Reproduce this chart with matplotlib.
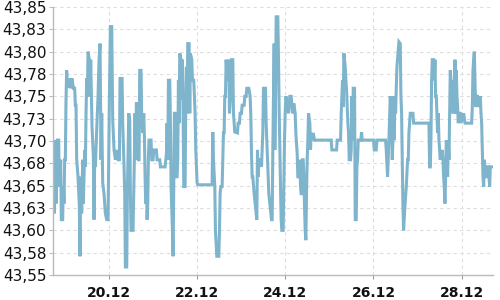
import pandas as pd
import matplotlib
matplotlib.use("Agg")
import matplotlib.pyplot as plt
import matplotlib.dates as mdates
from matplotlib.ticker import FixedLocator, FuncFormatter

# ─────────────────────────────────────────────────────────────
# Data: hours since first sample, rate
# ─────────────────────────────────────────────────────────────
start = pd.Timestamp("2023-12-18 17:30")

hours = [
    0.0, 0.56, 1.11, 1.47, 2.2, 2.93, 3.29, 4.02, 4.38, 5.11, 5.47, 5.84, 6.2, 6.56,
    6.93, 7.29, 7.65, 8.2, 8.75, 9.47, 10.2, 10.93, 11.65, 12.02, 12.38, 12.75, 13.47,
    14.2, 14.56, 14.93, 15.47, 16.02, 16.38, 17.11, 17.47, 17.84, 18.2, 18.56, 18.93,
    19.65, 20.02, 20.38, 20.75, 21.11, 21.84, 22.2, 22.56, 22.93, 23.65, 24.38, 24.93,
    25.47, 26.02, 26.38, 26.93, 27.65, 28.38, 29.11, 29.84, 30.56, 31.11, 31.84, 32.38,
    33.11, 33.84, 34.56, 35.29, 36.02, 36.38, 37.47, 37.84, 38.56, 38.93, 39.29, 40.02,
    40.38, 41.11, 41.66, 42.02, 42.38, 43.47, 44.2, 44.56, 44.93, 45.29, 46.02, 46.38,
    46.75, 47.11, 47.84, 48.2, 48.93, 49.29, 49.66, 50.02, 50.38, 50.75, 51.11, 51.47,
    51.84, 52.2, 53.29, 53.66, 54.38, 54.75, 56.2, 56.56, 58.02, 58.38, 60.93, 61.66,
    62.02, 62.38, 62.75, 63.47, 63.84, 64.2, 64.93, 65.29, 65.66, 66.02, 66.38, 66.75,
    67.47, 67.84, 68.2, 68.56, 68.93, 69.66, 70.02, 70.38, 70.75, 71.11, 71.84, 72.2,
    72.56, 72.93, 73.29, 74.02, 74.38, 74.75, 75.48, 75.84, 76.56, 77.29, 77.66, 78.02,
    78.38, 78.75, 86.56, 86.93, 87.29, 88.02, 88.38, 89.11, 90.2, 90.57, 90.93, 91.29,
    92.02, 92.38, 92.75, 93.11, 93.47, 93.84, 94.2, 94.93, 95.66, 96.02, 96.75, 97.11,
    97.84, 98.2, 98.57, 98.93, 100.38, 100.75, 101.47, 101.84, 102.57, 102.93, 104.02,
    104.38, 105.11, 105.47, 106.57, 107.29, 107.66, 108.02, 108.38, 108.75, 109.47,
    110.2, 110.93, 111.29, 111.66, 112.02, 112.75, 113.47, 114.2, 114.57, 115.66,
    116.02, 116.75, 117.47, 118.2, 118.93, 119.29, 119.66, 120.02, 120.38, 120.75,
    121.11, 121.48, 122.2, 122.38, 122.75, 123.11, 123.48, 123.84, 124.2, 124.57,
    125.29, 125.66, 126.02, 126.38, 126.75, 127.48, 128.2, 128.93, 129.66, 130.38,
    131.11, 131.84, 132.2, 132.57, 132.93, 133.29, 134.02, 134.38, 134.75, 135.11,
    135.48, 135.84, 136.2, 136.57, 136.93, 137.29, 137.66, 138.02, 138.38, 138.75,
    139.11, 139.84, 140.2, 140.57, 140.93, 141.66, 142.38, 151.48, 151.84, 154.38,
    154.75, 156.57, 156.93, 157.29, 157.66, 158.02, 158.38, 159.11, 159.48, 159.84,
    160.2, 160.57, 160.93, 161.29, 162.02, 162.38, 162.75, 163.11, 163.48, 164.2,
    164.57, 165.11, 165.48, 165.84, 166.2, 167.66, 168.02, 168.39, 174.57, 174.93,
    176.02, 176.39, 181.11, 181.48, 182.2, 182.93, 183.66, 184.39, 184.75, 185.11,
    185.48, 185.84, 186.2, 186.57, 186.93, 187.3, 188.02, 188.39, 189.11, 189.48,
    189.84, 190.2, 190.57, 190.93, 191.66, 192.39, 193.11, 193.48, 193.84, 194.2,
    194.57, 196.02, 196.39, 204.75, 205.11, 205.47, 205.84, 206.2, 206.57, 207.29,
    207.66, 208.02, 208.38, 208.75, 209.11, 209.47, 209.84, 210.2, 210.57, 210.93,
    211.29, 211.66, 212.02, 212.38, 212.75, 213.11, 213.47, 213.84, 214.2, 214.57,
    214.93, 215.29, 215.66, 216.02, 216.38, 216.75, 217.11, 217.47, 217.84, 218.2,
    218.57, 218.93, 219.29, 219.66, 220.02, 220.38, 220.75, 221.11, 221.84, 222.2,
    223.66, 224.39, 228.02, 228.39, 228.75, 229.11, 229.47, 229.84, 230.2, 230.57,
    231.29, 232.02, 232.75, 233.11, 233.48, 233.84, 234.2, 234.57, 234.93, 235.66,
    236.02, 236.38, 237.11, 237.47, 237.84, 238.2, 238.93, 239.5,
]

rates = [
    43.649, 43.619, 43.701, 43.630, 43.701, 43.701, 43.649, 43.679, 43.612, 43.612, 43.649, 43.630, 43.679, 43.679,
    43.746, 43.779, 43.761, 43.761, 43.770, 43.759, 43.770, 43.759, 43.759, 43.740, 43.740, 43.679, 43.660,
    43.627, 43.571, 43.660, 43.619, 43.679, 43.630, 43.690, 43.671, 43.731, 43.770, 43.750, 43.800,
    43.791, 43.750, 43.791, 43.750, 43.716, 43.682, 43.612, 43.679, 43.671, 43.712, 43.750, 43.791,
    43.809, 43.679, 43.731, 43.653, 43.641, 43.619, 43.612, 43.612, 43.746, 43.828, 43.828, 43.724,
    43.690, 43.679, 43.690, 43.679, 43.679, 43.770, 43.770, 43.720, 43.671, 43.641, 43.559, 43.559,
    43.641, 43.731, 43.724, 43.641, 43.600, 43.600, 43.682, 43.731, 43.679, 43.742, 43.742, 43.679,
    43.679, 43.779, 43.779, 43.720, 43.709, 43.731, 43.705, 43.660, 43.630, 43.660, 43.612, 43.630,
    43.682, 43.701, 43.701, 43.679, 43.679, 43.690, 43.690, 43.679, 43.679, 43.671, 43.671, 43.686,
    43.720, 43.679, 43.768, 43.768, 43.720, 43.649, 43.600, 43.571, 43.649, 43.731, 43.731, 43.660,
    43.660, 43.679, 43.768, 43.720, 43.798, 43.791, 43.746, 43.791, 43.731, 43.649, 43.649, 43.746,
    43.783, 43.731, 43.809, 43.809, 43.731, 43.798, 43.791, 43.768, 43.768, 43.731, 43.690, 43.671,
    43.653, 43.651, 43.651, 43.710, 43.679, 43.649, 43.600, 43.571, 43.571, 43.600, 43.641, 43.649,
    43.649, 43.679, 43.709, 43.709, 43.750, 43.750, 43.791, 43.768, 43.791, 43.731, 43.757, 43.791,
    43.791, 43.731, 43.720, 43.710, 43.709, 43.720, 43.720, 43.731, 43.731, 43.740, 43.740,
    43.750, 43.750, 43.759, 43.759, 43.750, 43.729, 43.686, 43.660, 43.660, 43.641,
    43.627, 43.612, 43.690, 43.660, 43.679, 43.679, 43.671, 43.709, 43.759, 43.759,
    43.720, 43.679, 43.641, 43.627, 43.612, 43.612, 43.690, 43.750, 43.809, 43.690,
    43.746, 43.839, 43.839, 43.839, 43.791, 43.735, 43.690, 43.649, 43.612, 43.600,
    43.600, 43.649, 43.701, 43.731, 43.750, 43.742, 43.731, 43.750, 43.750, 43.731,
    43.742, 43.731, 43.709, 43.697, 43.686, 43.660, 43.660, 43.679, 43.649, 43.641,
    43.641, 43.679, 43.679, 43.660, 43.627, 43.600, 43.589, 43.641, 43.679, 43.701,
    43.731, 43.720, 43.690, 43.709, 43.701, 43.709, 43.701, 43.701, 43.690, 43.690,
    43.701, 43.701, 43.731, 43.750, 43.768, 43.738, 43.798, 43.783, 43.768, 43.757,
    43.738, 43.720, 43.709, 43.679, 43.679, 43.690, 43.750, 43.701, 43.759, 43.759,
    43.612, 43.612, 43.671, 43.679, 43.701, 43.701, 43.710, 43.701, 43.701, 43.690,
    43.690, 43.701, 43.701, 43.690, 43.660, 43.701, 43.750, 43.720, 43.679, 43.701,
    43.750, 43.701, 43.750, 43.731, 43.759, 43.783, 43.802, 43.811, 43.809, 43.750,
    43.731, 43.679, 43.627, 43.600, 43.627, 43.649, 43.679, 43.679, 43.709, 43.720,
    43.731, 43.731, 43.720, 43.720, 43.671, 43.671, 43.701, 43.768, 43.791, 43.791,
    43.768, 43.791, 43.750, 43.750, 43.731, 43.709, 43.731, 43.701, 43.690, 43.679,
    43.690, 43.679, 43.690, 43.679, 43.660, 43.649, 43.630, 43.660, 43.701, 43.690,
    43.660, 43.701, 43.679, 43.731, 43.779, 43.768, 43.731, 43.750, 43.768, 43.761,
    43.731, 43.791, 43.731, 43.779, 43.750, 43.738, 43.720, 43.731, 43.731, 43.720,
    43.731, 43.720, 43.720, 43.738, 43.779, 43.791, 43.800, 43.768, 43.738, 43.750,
    43.750, 43.738, 43.750, 43.731, 43.720, 43.690, 43.660, 43.649, 43.679, 43.660,
    43.660, 43.671, 43.671, 43.660, 43.649, 43.671, 43.671, 43.671,
]

y_ticks = [43.55 + 0.025 * i for i in range(13)]
x_tick_days = [20, 22, 24, 26, 28]

times = start + pd.to_timedelta(hours, unit="h")

# ─────────────────────────────────────────────────────────────
# Figure
# ─────────────────────────────────────────────────────────────
fig = plt.figure(figsize=(5, 3), dpi=100)
ax = fig.add_axes([0.1066, 0.0833, 0.8788, 0.8934])

ax.plot(times, rates, color="#7fb4cd", linewidth=2.2, solid_joinstyle="miter")

ax.set_xlim(times[0], times[-1])
ax.set_ylim(43.55, 43.85)

ax.yaxis.set_major_locator(FixedLocator(y_ticks))
ax.yaxis.set_major_formatter(FuncFormatter(lambda v, p: f"{v + 1e-9:.2f}".replace(".", ",")))
ax.xaxis.set_major_locator(mdates.DayLocator(bymonthday=x_tick_days))
ax.xaxis.set_major_formatter(mdates.DateFormatter("%d.%m"))

ax.grid(True, color="#dddddd", linestyle=(0, (3, 3)), linewidth=0.8)
ax.set_axisbelow(True)

for side in ["top", "right"]:
    ax.spines[side].set_visible(False)
for side in ["left", "bottom"]:
    ax.spines[side].set_color("#bbbbbb")
    ax.spines[side].set_linewidth(1.0)

ax.tick_params(axis="y", labelsize=11, colors="#bbbbbb", labelcolor="#111111", length=3, pad=2)
ax.tick_params(axis="x", labelsize=10, colors="#999999", labelcolor="#111111", length=3, pad=5)
for lbl in ax.get_xticklabels():
    lbl.set_fontweight("bold")

fig.savefig("out.png", dpi=100)
